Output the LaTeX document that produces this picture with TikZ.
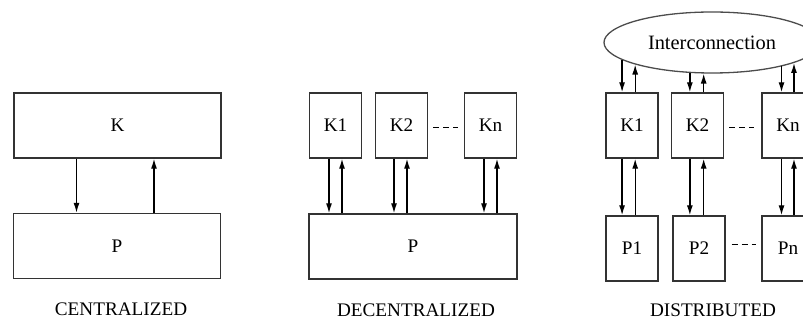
\documentclass[tikz,border=0pt]{standalone}
\usepackage{fontspec}
\setmainfont{Liberation Serif}
\usetikzlibrary{arrows.meta,shapes.geometric}

\begin{document}
\begin{tikzpicture}[x=0.5pt, y=-0.5pt,
    font=\fontsize{9.6pt}{11pt}\selectfont,
    box/.style={draw=black!80, line width=0.7pt, minimum height=32.5pt, inner sep=0pt},
    wide/.style={box, minimum width=103.5pt},
    narrow/.style={box, minimum width=26pt},
    flow/.style={-{Latex[length=5pt,width=3pt]}, line width=0.65pt},
    gap/.style={dashed, dash pattern=on 3pt off 2pt, line width=0.6pt},
    caption/.style={inner sep=0pt}]
    \useasboundingbox (0,0) rectangle (803,320);
    \clip (0,0) rectangle (803,320);

    % centralized
    \begin{scope}[shift={(13,0)}]
      \node[wide] (ck) at (104.5,125.5) {K};
      \node[wide] (cp) at (104,246) {P};

      \draw[flow] ([xshift=-20.5pt]ck.south) -- ([xshift=-20.5pt]ck.south |- cp.north);
      \draw[flow] ([xshift=18.25pt]ck.south |- cp.north) -- ([xshift=18.25pt]ck.south);

      \node[caption] (clbl) at (108,309.5) {CENTRALIZED};
    \end{scope}

    % decentralized
    \begin{scope}[shift={(309,0)}]
      \node[narrow] (dk1) at (26.5,125.5) {K1};
      \node[narrow] (dk2) at (92.5,125.5) {K2};
      \node[narrow] (dkn) at (181.5,125.5) {Kn};
      \node[box, minimum width=104pt] (dp) at (104,246.5) {P};

      \draw[gap] ([xshift=2.5pt,yshift=-1pt]dk2.east) -- ([xshift=-3pt,yshift=-1pt]dkn.west);

      \draw[flow] ([xshift=-3.25pt]dk1.south) -- ([xshift=-3.25pt]dk1.south |- dp.north);
      \draw[flow] ([xshift=3.25pt]dk1.south |- dp.north) -- ([xshift=3.25pt]dk1.south);
      \draw[flow] ([xshift=-3.75pt]dk2.south) -- ([xshift=-3.75pt]dk2.south |- dp.north);
      \draw[flow] ([xshift=2.75pt]dk2.south |- dp.north) -- ([xshift=2.75pt]dk2.south);
      \draw[flow] ([xshift=-3.25pt]dkn.south) -- ([xshift=-3.25pt]dkn.south |- dp.north);
      \draw[flow] ([xshift=3.25pt]dkn.south |- dp.north) -- ([xshift=3.25pt]dkn.south);

      \node[caption] (dlbl) at (107,310) {DECENTRALIZED};
    \end{scope}

    % distributed
    \begin{scope}[shift={(606,0)}]
      \node[draw=black!70, line width=0.65pt, ellipse, inner sep=0pt,
            minimum width=108pt, minimum height=30.5pt,
            font=\fontsize{10.2pt}{12pt}\selectfont] (net) at (106,42.5) {Interconnection};

      \node[narrow] (sk1) at (26,125.5) {K1};
      \node[narrow] (sk2) at (91.5,125.5) {K2};
      \node[narrow] (skn) at (182,125.5) {Kn};
      \node[narrow] (sp1) at (26,248.5) {P1};
      \node[narrow] (sp2) at (93,248.5) {P2};
      \node[narrow] (spn) at (182,248.5) {Pn};

      \draw[gap] ([xshift=2.5pt,yshift=-1pt]sk2.east) -- ([xshift=-3.5pt,yshift=-1pt]skn.west);
      \draw[gap] ([xshift=3pt,yshift=2pt]sp2.east) -- ([xshift=-2.5pt,yshift=2pt]spn.west);

      % interconnection <-> controllers
      \draw[flow] (net.191.9) -- (net.191.9 |- sk1.north);
      \draw[flow] (net.196.9 |- sk1.north) -- (net.196.9);
      \draw[flow] (net.234.9) -- (net.234.9 |- sk2.north);
      \draw[flow] (net.255.3 |- sk2.north) -- (net.255.3);
      \draw[flow] (net.341.4) -- (net.341.4 |- skn.north);
      \draw[flow] (net.346.6 |- skn.north) -- (net.346.6);

      % controllers <-> plants
      \draw[flow] (net.191.9 |- sk1.south) -- (net.191.9 |- sp1.north);
      \draw[flow] (net.196.9 |- sp1.north) -- (net.196.9 |- sk1.south);
      \draw[flow] (net.234.9 |- sk2.south) -- (net.234.9 |- sp2.north);
      \draw[flow] (net.255.3 |- sp2.north) -- (net.255.3 |- sk2.south);
      \draw[flow] (net.341.4 |- skn.south) -- (net.341.4 |- spn.north);
      \draw[flow] (net.346.6 |- spn.north) -- (net.346.6 |- skn.south);

      \node[caption] (slbl) at (107,310) {DISTRIBUTED};
    \end{scope}
\end{tikzpicture}
\end{document}
